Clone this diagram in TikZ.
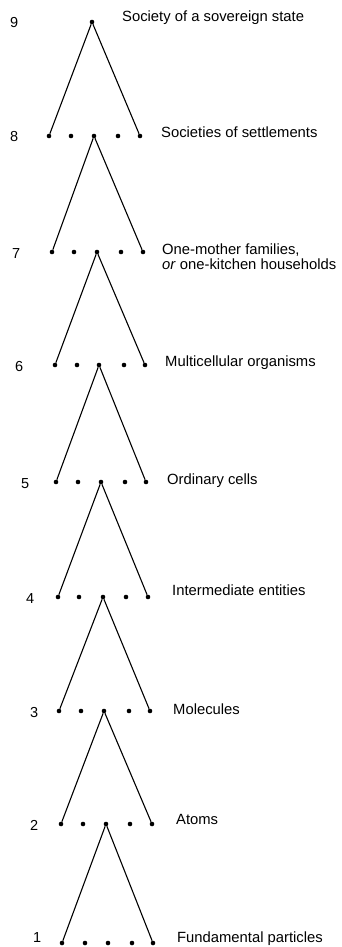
\documentclass[tikz,border=0pt]{standalone}
\usepackage{fontspec}
\setmainfont{Liberation Sans}
\begin{document}
\begin{tikzpicture}[x=1pt,y=-1pt,
  dot/.style={circle,fill=black,inner sep=0pt,minimum size=4.6pt},
  lvl/.style={anchor=base west,font=\fontsize{14.5}{14}\selectfont,inner sep=0pt},
  lbl/.style={anchor=base west,font=\fontsize{14.8}{15}\selectfont,inner sep=0pt,align=left},
  edge/.style={line width=1.1pt}]
\useasboundingbox (0,0) rectangle (342,947);
% level 9
\node[dot] (d9c) at (92,22) {};
\node[lvl] (n9) at (10,28) {9};
\node[lbl] (t9) at (122,22) {Society of a sovereign state};
% levels 8..1
\foreach \lev/\y/\a/\b/\c/\d/\e in {
  8/136/49/71/94/118/140,
  7/252/52/74/97/121/143,
  6/365/55/77/99/124/145,
  5/482/56/78/101/125/146,
  4/597/58/79/103/126/148,
  3/711/59/81/104/129/150,
  2/824/61/83/106/130/152,
  1/943/62/85/108/132/153}{
  \node[dot] (d\lev a) at (\a,\y) {};
  \node[dot] (d\lev b) at (\b,\y) {};
  \node[dot] (d\lev c) at (\c,\y) {};
  \node[dot] (d\lev d) at (\d,\y) {};
  \node[dot] (d\lev e) at (\e,\y) {};
}
\node[lvl] (n8) at (10,142) {8};
\node[lvl] (n7) at (12,258) {7};
\node[lvl] (n6) at (15,371) {6};
\node[lvl] (n5) at (21,488) {5};
\node[lvl] (n4) at (26,603) {4};
\node[lvl] (n3) at (30,717) {3};
\node[lvl] (n2) at (30,830) {2};
\node[lvl] (n1) at (33,942) {1};
\node[lbl] (t8) at (161,138) {Societies of settlements};
\node[lbl] (t7) at (162,269) {One-mother families,\\ \textit{or} one-kitchen households};
\node[lbl] (t6) at (165,366) {Multicellular organisms};
\node[lbl] (t5) at (167,484) {Ordinary cells};
\node[lbl] (t4) at (172,595) {Intermediate entities};
\node[lbl] (t3) at (173,714) {Molecules};
\node[lbl] (t2) at (176,824) {Atoms};
\node[lbl] (t1) at (177,942) {Fundamental particles};
% connectors
\draw[edge] (d8a) -- (d9c) -- (d8e);
\foreach \u/\l in {8/7,7/6,6/5,5/4,4/3,3/2,2/1}{
  \draw[edge] (d\l a) -- (d\u c) -- (d\l e);
}
\end{tikzpicture}
\end{document}
